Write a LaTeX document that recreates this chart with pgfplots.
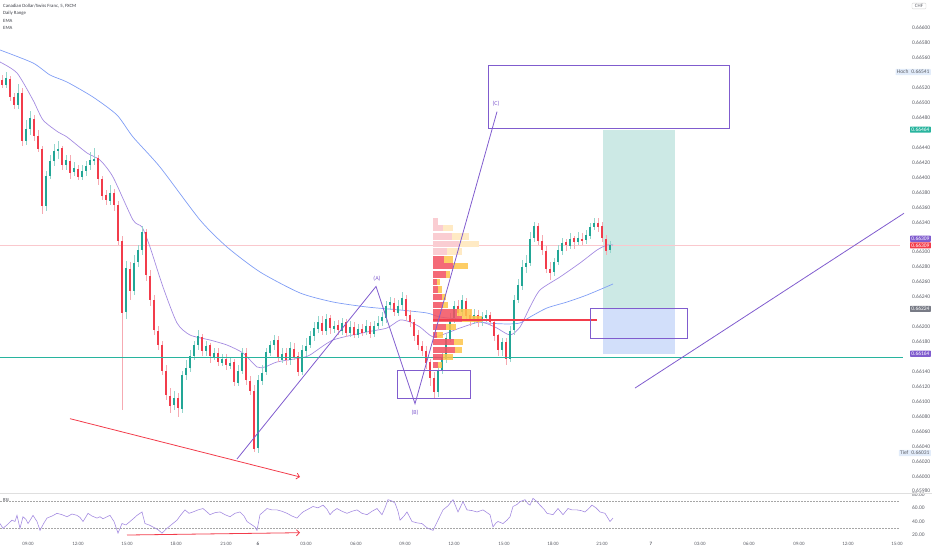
\documentclass[border=0pt]{standalone}
\usepackage{pgfplots}
\pgfplotsset{compat=1.18}
\usepackage{pgfplotstable}
\usepackage{fontspec}
\setmainfont{Carlito}
\usetikzlibrary{arrows.meta}

\definecolor{up}{RGB}{34,166,150}
\definecolor{dn}{RGB}{242,60,75}
\definecolor{upl}{RGB}{150,214,205}
\definecolor{dnl}{RGB}{246,170,178}
\definecolor{pur}{RGB}{128,92,206}
\definecolor{emap}{RGB}{165,140,225}
\definecolor{emab}{RGB}{128,158,245}
\definecolor{tealbg}{RGB}{204,233,229}
\definecolor{bluebg}{RGB}{210,223,250}
\definecolor{ticktxt}{RGB}{95,97,105}
\definecolor{graylbl}{RGB}{120,123,134}
\definecolor{labblue}{RGB}{226,236,250}
\definecolor{vpr}{RGB}{242,80,95}
\definecolor{vpo}{RGB}{253,196,74}
\definecolor{vprf}{RGB}{250,205,210}
\definecolor{vpof}{RGB}{255,234,196}
\definecolor{pinkline}{RGB}{250,200,205}
\definecolor{tealline}{RGB}{40,180,158}
\definecolor{toptxt}{RGB}{60,62,70}

\pgfplotstableread{
x o h l c
2 0.66530 0.66537 0.66520 0.66524
6 0.66524 0.66541 0.66520 0.66533
10 0.66533 0.66537 0.66504 0.66509
14 0.66509 0.66514 0.66493 0.66498
18 0.66498 0.66526 0.66493 0.66514
22 0.66514 0.66520 0.66443 0.66450
26 0.66450 0.66477 0.66443 0.66466
30 0.66466 0.66490 0.66457 0.66480
34 0.66480 0.66484 0.66450 0.66457
38 0.66457 0.66464 0.66434 0.66439
42 0.66439 0.66443 0.66352 0.66363
46 0.66363 0.66410 0.66356 0.66403
50 0.66403 0.66430 0.66399 0.66423
54 0.66423 0.66446 0.66417 0.66437
58 0.66437 0.66450 0.66426 0.66439
62 0.66439 0.66443 0.66410 0.66417
66 0.66417 0.66430 0.66410 0.66423
70 0.66423 0.66430 0.66399 0.66407
74 0.66407 0.66421 0.66402 0.66413
78 0.66413 0.66417 0.66397 0.66402
82 0.66402 0.66417 0.66397 0.66410
86 0.66410 0.66423 0.66403 0.66417
90 0.66417 0.66434 0.66410 0.66423
94 0.66423 0.66439 0.66417 0.66426
98 0.66426 0.66430 0.66390 0.66399
102 0.66399 0.66403 0.66370 0.66376
106 0.66376 0.66383 0.66363 0.66370
110 0.66370 0.66390 0.66363 0.66380
114 0.66380 0.66386 0.66356 0.66363
118 0.66363 0.66370 0.66310 0.66316
122 0.66316 0.66323 0.66089 0.66220
126 0.66220 0.66289 0.66212 0.66279
130 0.66279 0.66287 0.66236 0.66249
134 0.66249 0.66296 0.66243 0.66287
138 0.66287 0.66311 0.66281 0.66303
142 0.66303 0.66335 0.66296 0.66327
146 0.66327 0.66332 0.66263 0.66269
150 0.66269 0.66276 0.66229 0.66236
154 0.66236 0.66243 0.66189 0.66196
158 0.66196 0.66202 0.66169 0.66176
162 0.66176 0.66182 0.66136 0.66142
166 0.66142 0.66149 0.66102 0.66109
170 0.66109 0.66118 0.66085 0.66095
174 0.66095 0.66115 0.66089 0.66105
178 0.66105 0.66111 0.66079 0.66091
182 0.66091 0.66142 0.66086 0.66136
186 0.66136 0.66156 0.66129 0.66146
190 0.66146 0.66169 0.66140 0.66162
194 0.66162 0.66182 0.66156 0.66176
198 0.66176 0.66196 0.66169 0.66188
202 0.66188 0.66192 0.66162 0.66169
206 0.66169 0.66182 0.66162 0.66176
210 0.66176 0.66180 0.66153 0.66161
214 0.66161 0.66172 0.66156 0.66166
218 0.66166 0.66172 0.66148 0.66153
222 0.66153 0.66164 0.66148 0.66158
226 0.66158 0.66164 0.66142 0.66149
230 0.66149 0.66160 0.66145 0.66153
234 0.66153 0.66158 0.66121 0.66126
238 0.66126 0.66149 0.66121 0.66142
242 0.66142 0.66173 0.66138 0.66166
246 0.66166 0.66172 0.66122 0.66129
250 0.66129 0.66134 0.66109 0.66115
254 0.66115 0.66122 0.66032 0.66038
258 0.66038 0.66136 0.66032 0.66129
262 0.66129 0.66149 0.66122 0.66140
266 0.66140 0.66172 0.66136 0.66166
270 0.66166 0.66182 0.66161 0.66176
274 0.66176 0.66190 0.66169 0.66182
278 0.66182 0.66188 0.66153 0.66158
282 0.66158 0.66173 0.66153 0.66166
286 0.66166 0.66172 0.66150 0.66156
290 0.66156 0.66180 0.66150 0.66172
294 0.66172 0.66178 0.66156 0.66161
298 0.66161 0.66166 0.66134 0.66140
302 0.66140 0.66176 0.66136 0.66169
306 0.66169 0.66185 0.66162 0.66176
310 0.66176 0.66196 0.66172 0.66188
314 0.66188 0.66207 0.66182 0.66198
318 0.66198 0.66215 0.66193 0.66207
322 0.66207 0.66215 0.66189 0.66196
326 0.66196 0.66219 0.66190 0.66212
330 0.66212 0.66217 0.66192 0.66198
334 0.66198 0.66209 0.66193 0.66202
338 0.66202 0.66209 0.66189 0.66196
342 0.66196 0.66213 0.66190 0.66207
346 0.66207 0.66212 0.66188 0.66193
350 0.66193 0.66209 0.66188 0.66201
354 0.66201 0.66207 0.66185 0.66190
358 0.66190 0.66204 0.66185 0.66198
362 0.66198 0.66204 0.66188 0.66193
366 0.66193 0.66209 0.66189 0.66202
370 0.66202 0.66207 0.66185 0.66192
374 0.66192 0.66209 0.66188 0.66202
378 0.66202 0.66215 0.66198 0.66207
382 0.66207 0.66220 0.66201 0.66212
386 0.66212 0.66236 0.66207 0.66229
390 0.66229 0.66240 0.66223 0.66233
394 0.66233 0.66239 0.66215 0.66220
398 0.66220 0.66236 0.66215 0.66229
402 0.66229 0.66247 0.66223 0.66239
406 0.66239 0.66243 0.66209 0.66216
410 0.66216 0.66223 0.66201 0.66207
414 0.66207 0.66212 0.66182 0.66189
418 0.66189 0.66196 0.66169 0.66176
422 0.66176 0.66182 0.66162 0.66169
426 0.66169 0.66176 0.66145 0.66153
430 0.66153 0.66158 0.66122 0.66132
434 0.66132 0.66140 0.66106 0.66113
438 0.66113 0.66149 0.66107 0.66142
442 0.66142 0.66166 0.66138 0.66158
446 0.66158 0.66192 0.66153 0.66185
450 0.66185 0.66219 0.66180 0.66212
454 0.66212 0.66236 0.66207 0.66229
458 0.66229 0.66236 0.66215 0.66220
462 0.66220 0.66243 0.66215 0.66236
466 0.66236 0.66240 0.66209 0.66216
470 0.66216 0.66223 0.66202 0.66209
474 0.66209 0.66225 0.66204 0.66217
478 0.66217 0.66223 0.66201 0.66207
482 0.66207 0.66220 0.66201 0.66212
486 0.66212 0.66223 0.66207 0.66216
490 0.66216 0.66220 0.66201 0.66207
494 0.66207 0.66212 0.66182 0.66189
498 0.66189 0.66192 0.66162 0.66169
502 0.66169 0.66185 0.66162 0.66180
506 0.66180 0.66185 0.66150 0.66158
510 0.66158 0.66202 0.66153 0.66196
514 0.66196 0.66243 0.66190 0.66236
518 0.66236 0.66265 0.66232 0.66256
522 0.66256 0.66289 0.66249 0.66281
526 0.66281 0.66296 0.66273 0.66287
530 0.66287 0.66327 0.66281 0.66319
534 0.66319 0.66340 0.66314 0.66335
538 0.66335 0.66340 0.66310 0.66316
542 0.66316 0.66323 0.66296 0.66303
546 0.66303 0.66310 0.66273 0.66279
550 0.66279 0.66287 0.66263 0.66273
554 0.66273 0.66292 0.66269 0.66287
558 0.66287 0.66310 0.66283 0.66303
562 0.66303 0.66319 0.66296 0.66314
566 0.66314 0.66319 0.66303 0.66310
570 0.66310 0.66327 0.66305 0.66319
574 0.66319 0.66323 0.66305 0.66314
578 0.66314 0.66327 0.66310 0.66319
582 0.66319 0.66327 0.66311 0.66316
586 0.66316 0.66330 0.66311 0.66323
590 0.66323 0.66340 0.66319 0.66335
594 0.66335 0.66346 0.66330 0.66340
598 0.66340 0.66346 0.66327 0.66335
602 0.66335 0.66340 0.66314 0.66319
606 0.66319 0.66323 0.66296 0.66303
610 0.66303 0.66316 0.66300 0.66309
}\candles

\pgfplotstableread{
y r o
0.66341 437.7 437.7
0.66332 443.0 452.7
0.66321 451.7 469.0
0.66311 459.0 479.0
0.66301 446.7 462.0
}\vpfaded

\pgfplotstableread{
y r o
0.66290 444.0 453.3
0.66281 453.3 468.3
0.66270 445.7 450.0
0.66260 436.7 440.0
0.66250 438.3 442.3
0.66240 441.7 445.7
0.66229 443.3 448.3
0.66219 456.7 471.7
0.66210 461.7 481.7
0.66200 446.0 456.0
0.66189 437.3 443.3
0.66180 454.0 463.3
0.66169 455.0 461.7
0.66160 442.7 452.7
0.66149 438.0 441.7
}\vpsolid

\tikzset{lblbox/.style={font=\fontsize{5.5}{6}\selectfont, inner xsep=1.3pt, inner ysep=0.9pt, text height=4pt, text depth=0.4pt, rounded corners=0.6pt}}

\begin{document}
\begin{tikzpicture}
\useasboundingbox (0pt,0pt) rectangle (932pt,550pt);

\begin{axis}[
  at={(0pt,57pt)}, anchor=south west, scale only axis,
  width=900pt, height=493pt,
  xmin=0, xmax=900, ymin=0.659775, ymax=0.666375,
  axis line style={draw=none}, major tick length=0pt,
  xtick=\empty,
  ytick={0.65980,0.66000,0.66020,0.66040,0.66060,0.66080,0.66100,0.66120,0.66140,0.66180,0.66200,0.66240,0.66260,0.66280,0.66300,0.66340,0.66360,0.66380,0.66400,0.66420,0.66440,0.66480,0.66500,0.66520,0.66560,0.66580,0.66600},
  yticklabels={0.65980,0.66000,0.66020,0.66040,0.66060,0.66080,0.66100,0.66120,0.66140,0.66180,0.66200,0.66240,0.66260,0.66280,0.66300,0.66340,0.66360,0.66380,0.66400,0.66420,0.66440,0.66480,0.66500,0.66520,0.66560,0.66580,0.66600},
  yticklabel pos=right,
  yticklabel style={font=\fontsize{5.5}{6}\selectfont, text=ticktxt, anchor=west, xshift=8.5pt},
  clip=false,
  /pgf/number format/assume math mode=true,
]
% position tool regions
\addplot[draw=none, fill=tealbg, forget plot] coordinates {(603,0.66464) (675,0.66464) (675,0.66225) (603,0.66225)};
\addplot[draw=none, fill=bluebg, forget plot] coordinates {(603,0.66225) (675,0.66225) (675,0.66164) (603,0.66164)};
% horizontal lines
\addplot[draw=pinkline, line width=0.6pt, forget plot] coordinates {(0,0.66309) (900,0.66309)};
% EMAs
\addplot[emab, line width=0.7pt, smooth, tension=0.4, forget plot] coordinates {(0,0.665706) (33,0.665532) (50,0.665371) (67,0.665277) (93,0.665076) (117,0.664835) (133,0.664541) (160,0.664139) (200,0.663430) (227,0.663068) (260,0.662734) (300,0.662453) (333,0.662332) (367,0.662265) (400,0.662225) (427,0.662185) (440,0.662131) (467,0.662091) (487,0.662051) (507,0.662038) (520,0.662051) (530,0.662131) (547,0.662252) (567,0.662332) (587,0.662426) (613,0.662573)};
\addplot[emap, line width=0.7pt, smooth, tension=0.4, forget plot] coordinates {(0,0.665545) (17,0.665398) (33,0.665036) (43,0.664769) (58,0.664608) (67,0.664541) (87,0.664327) (100,0.664233) (113,0.664005) (133,0.663430) (142,0.663336) (150,0.663068) (163,0.662533) (177,0.662051) (190,0.661890) (210,0.661823) (227,0.661756) (243,0.661649) (257,0.661462) (265,0.661462) (277,0.661529) (300,0.661582) (310,0.661623) (333,0.661823) (367,0.661931) (387,0.661984) (400,0.662091) (410,0.662064) (420,0.661997) (433,0.661864) (447,0.661917) (460,0.661984) (480,0.662064) (495,0.661997) (510,0.661890) (520,0.661997) (530,0.662265) (540,0.662493) (560,0.662667) (580,0.662854) (597,0.663028) (607,0.663095) (613,0.663095)};
% candle wicks
\addplot[draw=none, mark=none, forget plot,
  restrict expr to domain={\thisrow{c}-\thisrow{o}}{0:1},
  error bars/.cd, y dir=both, y explicit, error mark=none,
  error bar style={line width=0.7pt, draw=upl}]
  table[x=x, y expr={(\thisrow{h}+\thisrow{l})/2}, y error expr={(\thisrow{h}-\thisrow{l})/2}] {\candles};
\addplot[draw=none, mark=none, forget plot,
  restrict expr to domain={\thisrow{c}-\thisrow{o}}{-1:0},
  error bars/.cd, y dir=both, y explicit, error mark=none,
  error bar style={line width=0.7pt, draw=dnl}]
  table[x=x, y expr={(\thisrow{h}+\thisrow{l})/2}, y error expr={(\thisrow{h}-\thisrow{l})/2}] {\candles};
% candle bodies
\addplot[draw=none, mark=none, forget plot,
  restrict expr to domain={\thisrow{c}-\thisrow{o}}{0:1},
  error bars/.cd, y dir=both, y explicit, error mark=none,
  error bar style={line width=2.2pt, draw=up}]
  table[x=x, y expr={(\thisrow{o}+\thisrow{c})/2}, y error expr={abs(\thisrow{c}-\thisrow{o})/2}] {\candles};
\addplot[draw=none, mark=none, forget plot,
  restrict expr to domain={\thisrow{c}-\thisrow{o}}{-1:0},
  error bars/.cd, y dir=both, y explicit, error mark=none,
  error bar style={line width=2.2pt, draw=dn}]
  table[x=x, y expr={(\thisrow{o}+\thisrow{c})/2}, y error expr={abs(\thisrow{c}-\thisrow{o})/2}] {\candles};
% green support line (drawn over candles)
\addplot[color=tealline, line width=1.5pt, forget plot] coordinates {(0,0.66159) (903,0.66159)};
% volume profile
\addplot[draw=none, mark=none, forget plot,
  error bars/.cd, x dir=both, x explicit, error mark=none,
  error bar style={line width=6.3pt, draw=vprf}]
  table[y=y, x expr={(433.3+\thisrow{r})/2}, x error expr={(\thisrow{r}-433.3)/2}] {\vpfaded};
\addplot[draw=none, mark=none, forget plot,
  error bars/.cd, x dir=both, x explicit, error mark=none,
  error bar style={line width=6.3pt, draw=vpof}]
  table[y=y, x expr={(\thisrow{r}+\thisrow{o})/2}, x error expr={(\thisrow{o}-\thisrow{r})/2}] {\vpfaded};
\addplot[draw=none, mark=none, forget plot,
  error bars/.cd, x dir=both, x explicit, error mark=none,
  error bar style={line width=6.3pt, draw=vpr, opacity=0.85}]
  table[y=y, x expr={(433.3+\thisrow{r})/2}, x error expr={(\thisrow{r}-433.3)/2}] {\vpsolid};
\addplot[draw=none, mark=none, forget plot,
  error bars/.cd, x dir=both, x explicit, error mark=none,
  error bar style={line width=6.3pt, draw=vpo, opacity=0.85}]
  table[y=y, x expr={(\thisrow{r}+\thisrow{o})/2}, x error expr={(\thisrow{o}-\thisrow{r})/2}] {\vpsolid};
% red POC line
\addplot[dn, line width=1.2pt, forget plot] coordinates {(433,0.66209) (597,0.66209)};
% red divergence arrow
\addplot[dn, line width=0.8pt, -{Straight Barb[length=3pt,width=6pt]}, forget plot] coordinates {(70,0.66077) (300,0.65999)};
% boxes
\addplot[pur, line width=0.9pt, forget plot] coordinates {(488,0.665505) (729,0.665505) (729,0.664661) (488,0.664661) (488,0.665505)};
\addplot[pur, line width=0.9pt, forget plot] coordinates {(397,0.661412) (470,0.661412) (470,0.661043) (397,0.661043) (397,0.661412)};
\addplot[pur, line width=0.9pt, forget plot] coordinates {(590,0.66225) (687,0.66225) (687,0.66184) (590,0.66184) (590,0.66225)};
% ABC zigzag
\addplot[pur, line width=0.8pt, forget plot] coordinates {(237,0.66023) (376,0.66254) (415,0.66097) (497,0.66488)};
% right trend line
\addplot[pur, line width=0.8pt, forget plot] coordinates {(635,0.66118) (904,0.66352)};
\node[text=pur, font=\fontsize{6}{7}\selectfont] at (axis cs:377,0.66264) {(A)};
\node[text=pur, font=\fontsize{6}{7}\selectfont] at (axis cs:415,0.66085) {(B)};
\node[text=pur, font=\fontsize{6}{7}\selectfont] at (axis cs:496,0.66498) {(C)};
% price scale labels
\node[lblbox, fill=labblue, text=ticktxt, anchor=east] at (axis cs:931,0.66541) {Hoch\hspace{3pt}0.66541};
\node[lblbox, fill=tealline, text=white, anchor=east] at (axis cs:931,0.66464) {0.66464};
\node[lblbox, fill=pur, text=white, anchor=east] at (axis cs:931,0.66318) {0.66309};
\node[lblbox, fill=dn, text=white, anchor=east] at (axis cs:931,0.66309) {0.66309};
\node[lblbox, fill=graylbl, text=white, anchor=east] at (axis cs:931,0.66224) {0.66224};
\node[lblbox, fill=pur, text=white, anchor=east] at (axis cs:931,0.66164) {0.66164};
\node[lblbox, fill=labblue, text=ticktxt, anchor=east] at (axis cs:931,0.66031) {Tief\hspace{3pt}0.66031};
\end{axis}

\begin{axis}[
  at={(0pt,10pt)}, anchor=south west, scale only axis,
  width=900pt, height=46pt,
  xmin=0, xmax=900, ymin=12.9, ymax=80.3,
  axis line style={draw=none}, major tick length=0pt,
  xtick={28,78,127,176,226,258,306,356,405,454,504,553,602,651,700,749,799,848,897},
  xticklabels={09:00,12:00,15:00,18:00,21:00,\textbf{6},03:00,06:00,09:00,12:00,15:00,18:00,21:00,\textbf{7},03:00,06:00,09:00,12:00,15:00},
  xticklabel style={font=\fontsize{5}{6}\selectfont, text=ticktxt, yshift=1pt},
  ytick={20,40,60,80},
  yticklabels={20.00,40.00,60.00,80.00},
  yticklabel pos=right,
  yticklabel style={font=\fontsize{5.5}{6}\selectfont, text=ticktxt, anchor=west, xshift=8.5pt},
  clip=false,
]
\addplot[gray!70, line width=0.5pt, dash pattern=on 1.5pt off 1.5pt, forget plot] coordinates {(0,70) (900,70)};
\addplot[gray!70, line width=0.5pt, dash pattern=on 1.5pt off 1.5pt, forget plot] coordinates {(0,30) (900,30)};
\addplot[emap, line width=0.6pt, forget plot] coordinates {(0,37) (3,30) (7,35) (12,42) (15,40) (17,49) (20,30) (23,47) (26,43) (28,37) (31,44) (33,49) (37,40) (40,27) (44,38) (47,45) (52,48) (57,52) (62,50) (67,47) (72,51) (77,49) (80,46) (83,40) (86,47) (88,52) (92,48) (97,45) (100,47) (103,44) (107,47) (110,49) (114,40) (118,23) (122,37) (126,35) (130,40) (134,45) (137,49) (142,54) (145,37) (149,35) (153,32) (158,28) (162,23) (167,30) (172,36) (177,42) (181,50) (185,57) (189,52) (193,54) (198,57) (203,59) (207,54) (210,50) (215,53) (220,54) (225,50) (230,47) (235,52) (240,54) (244,48) (247,40) (251,36) (255,32) (257,27) (260,50) (264,55) (267,59) (272,57) (277,57) (282,55) (287,52) (292,48) (297,45) (300,50) (303,54) (308,58) (313,62) (318,60) (323,64) (327,58) (330,50) (333,55) (337,59) (342,55) (347,52) (352,55) (357,57) (362,52) (367,50) (372,55) (377,59) (382,50) (385,60) (388,72) (392,70) (395,67) (398,55) (400,42) (404,48) (407,54) (412,40) (417,38) (422,37) (426,32) (428,30) (433,27) (438,42) (443,57) (448,63) (453,72) (458,54) (463,69) (467,57) (472,56) (477,54) (483,57) (490,50) (493,32) (496,38) (498,40) (503,37) (507,42) (510,47) (513,62) (517,65) (520,69) (525,72) (528,66) (530,64) (533,74) (537,69) (540,64) (544,58) (547,52) (553,50) (558,59) (563,50) (568,59) (572,57) (577,57) (581,56) (585,54) (588,58) (592,64) (596,60) (600,54) (605,52) (610,40) (613,45)};
\addplot[dn, line width=0.8pt, -{Straight Barb[length=3pt,width=6pt]}, forget plot] coordinates {(127,20.2) (300,23.6)};
\end{axis}

% pane separator
\draw[gray!25, line width=1pt] (0pt,56.5pt) -- (932pt,56.5pt);
% header texts
\node[anchor=west, font=\fontsize{4.8}{5}\selectfont, text=toptxt, inner sep=0pt] at (3pt,543.5pt) {Canadian Dollar/Swiss Franc, 5, FXCM};
\node[anchor=west, font=\fontsize{4.8}{5}\selectfont, text=toptxt, inner sep=0pt] at (3pt,536.5pt) {Daily Range};
\node[anchor=west, font=\fontsize{4.8}{5}\selectfont, text=toptxt, inner sep=0pt] at (3pt,529.5pt) {EMA};
\node[anchor=west, font=\fontsize{4.8}{5}\selectfont, text=toptxt, inner sep=0pt] at (3pt,522.5pt) {EMA};
\node[anchor=west, font=\fontsize{4.6}{5}\selectfont, text=toptxt, inner sep=0pt] at (3pt,50pt) {RSI};
\node[draw=gray!35, fill=white, rounded corners=1pt, font=\fontsize{5}{6}\selectfont, text=ticktxt, inner xsep=3pt, inner ysep=1.2pt] at (919pt,544pt) {CHF};
\end{tikzpicture}
\end{document}
